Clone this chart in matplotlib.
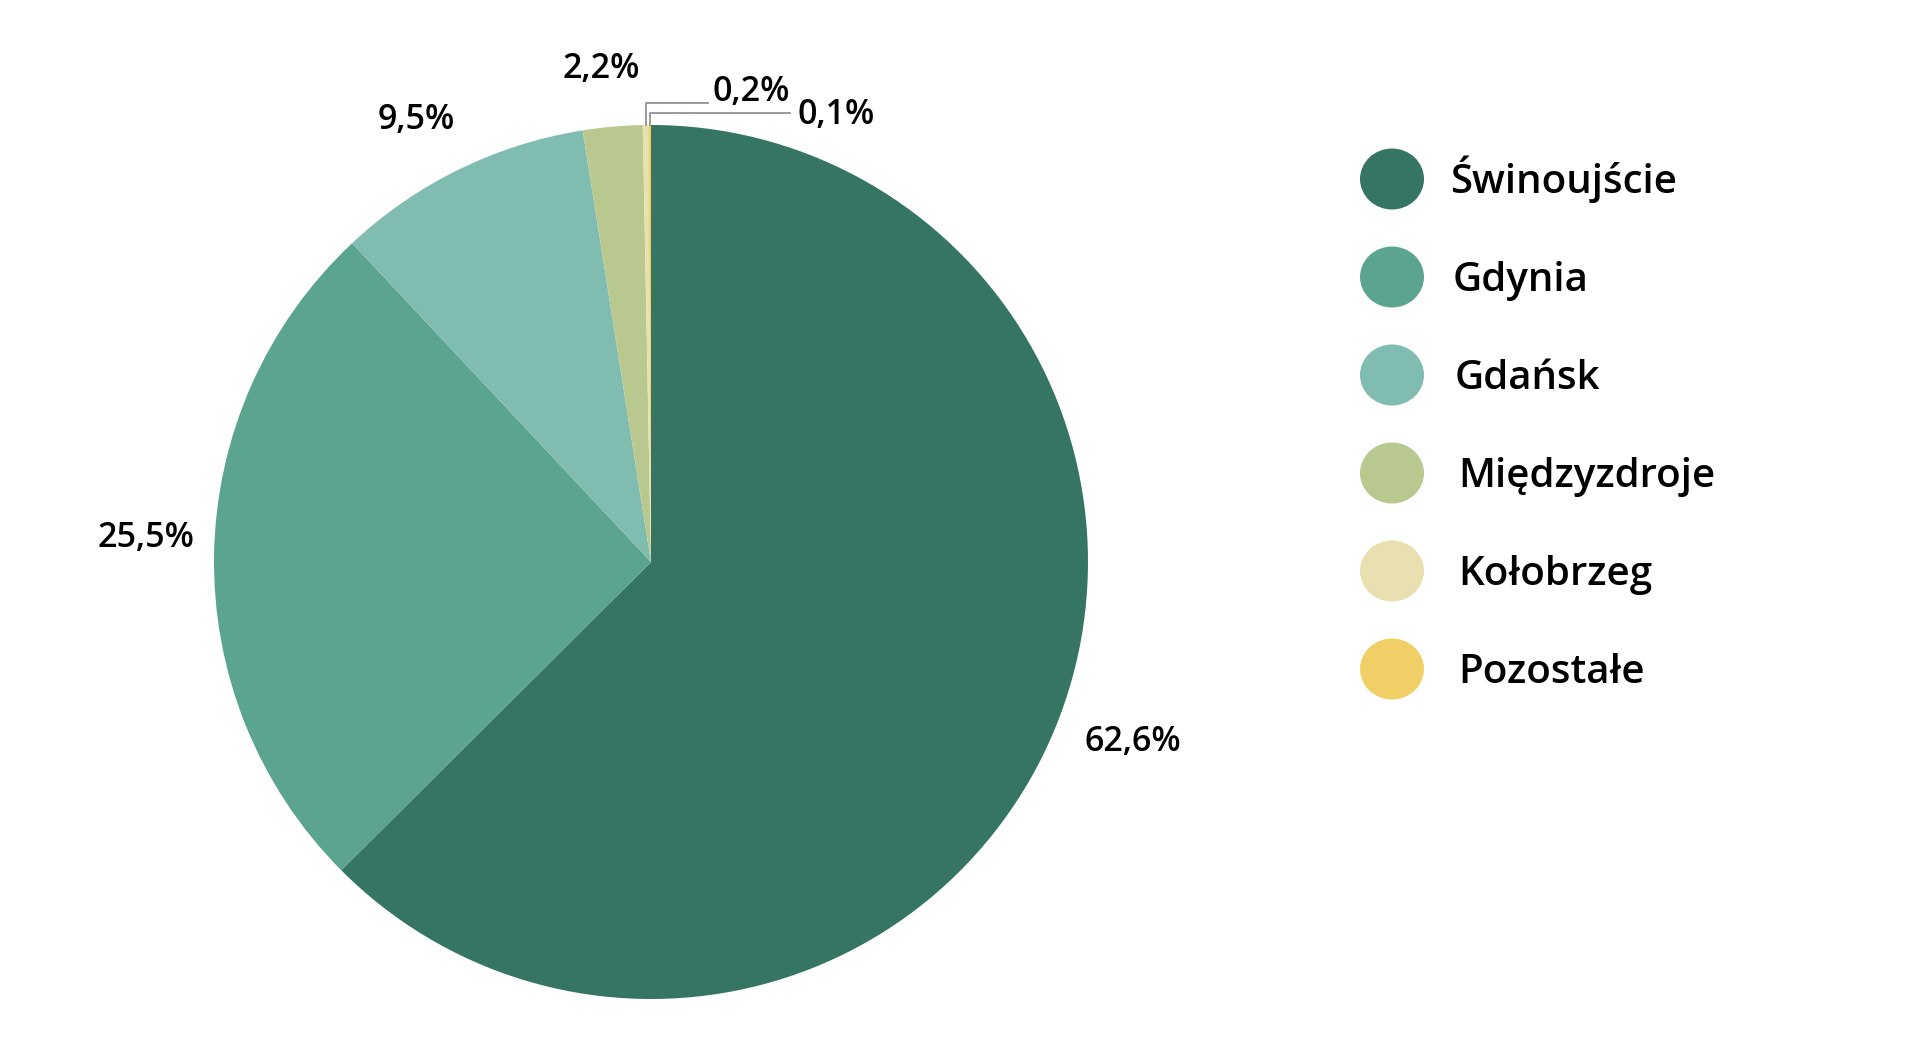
# Pie chart: share of ports (Świnoujście, Gdynia, ...)
import numpy as np
import matplotlib.pyplot as plt
from matplotlib.patches import Ellipse

plt.rcParams['font.family'] = ['Open Sans', 'DejaVu Sans']

# data
ports = ['Świnoujście', 'Gdynia', 'Gdańsk', 'Międzyzdroje', 'Kołobrzeg', 'Pozostałe']
shares = [62.6, 25.5, 9.5, 2.2, 0.2, 0.1]
labels = ['62,6%', '25,5%', '9,5%', '2,2%', '0,2%', '0,1%']
colors = ['#367564', '#5ba590', '#80bdb0', '#b8c88e', '#e8e0b0', '#f0d066']

W, H = 1920, 1064
fig = plt.figure(figsize=(W / 100, H / 100), dpi=100)
ax = fig.add_axes([0, 0, 1, 1])
ax.set_aspect('equal')
ax.axis('off')

cx, cy, r = 651, H - 562, 437
wedges, _ = ax.pie(shares, colors=colors, startangle=90, counterclock=False,
                   center=(cx, cy), radius=r, normalize=True,
                   wedgeprops=dict(linewidth=0))
ax.set_xlim(0, W)
ax.set_ylim(0, H)

# label positions in pixels from the top-left corner
label_pos = [(1133, 742), (146, 538), (416, 120), (601, 69), (751, 92), (836, 115)]
leader_y = [103, 113]     # height of the leader lines for the tiny slices
leader_x = [708, 790]

for i, (w, lab) in enumerate(zip(wedges, labels)):
    tx, ty = label_pos[i]
    ax.text(tx, H - ty, lab, fontsize=24.5, fontweight='semibold',
            ha='center', va='center')
    if i >= 4:
        mid = np.deg2rad((w.theta1 + w.theta2) / 2)
        ex = cx + r * np.cos(mid)
        ey = cy + r * np.sin(mid)
        ly = H - leader_y[i - 4]
        ax.plot([ex, ex, leader_x[i - 4]], [ey, ly, ly], color='#8a8a8a', lw=1.2)

# legend
text_x = [1450, 1453, 1455, 1458, 1458, 1458]
for k, (name, c) in enumerate(zip(ports, colors)):
    y = H - (179 + k * 98)
    ax.add_patch(Ellipse((1392, y), 64, 61, color=c, lw=0))
    ax.text(text_x[k], y - 14, name, fontsize=29, fontweight='semibold',
            ha='left', va='baseline')

fig.savefig('out.png', dpi=100, facecolor='white')
